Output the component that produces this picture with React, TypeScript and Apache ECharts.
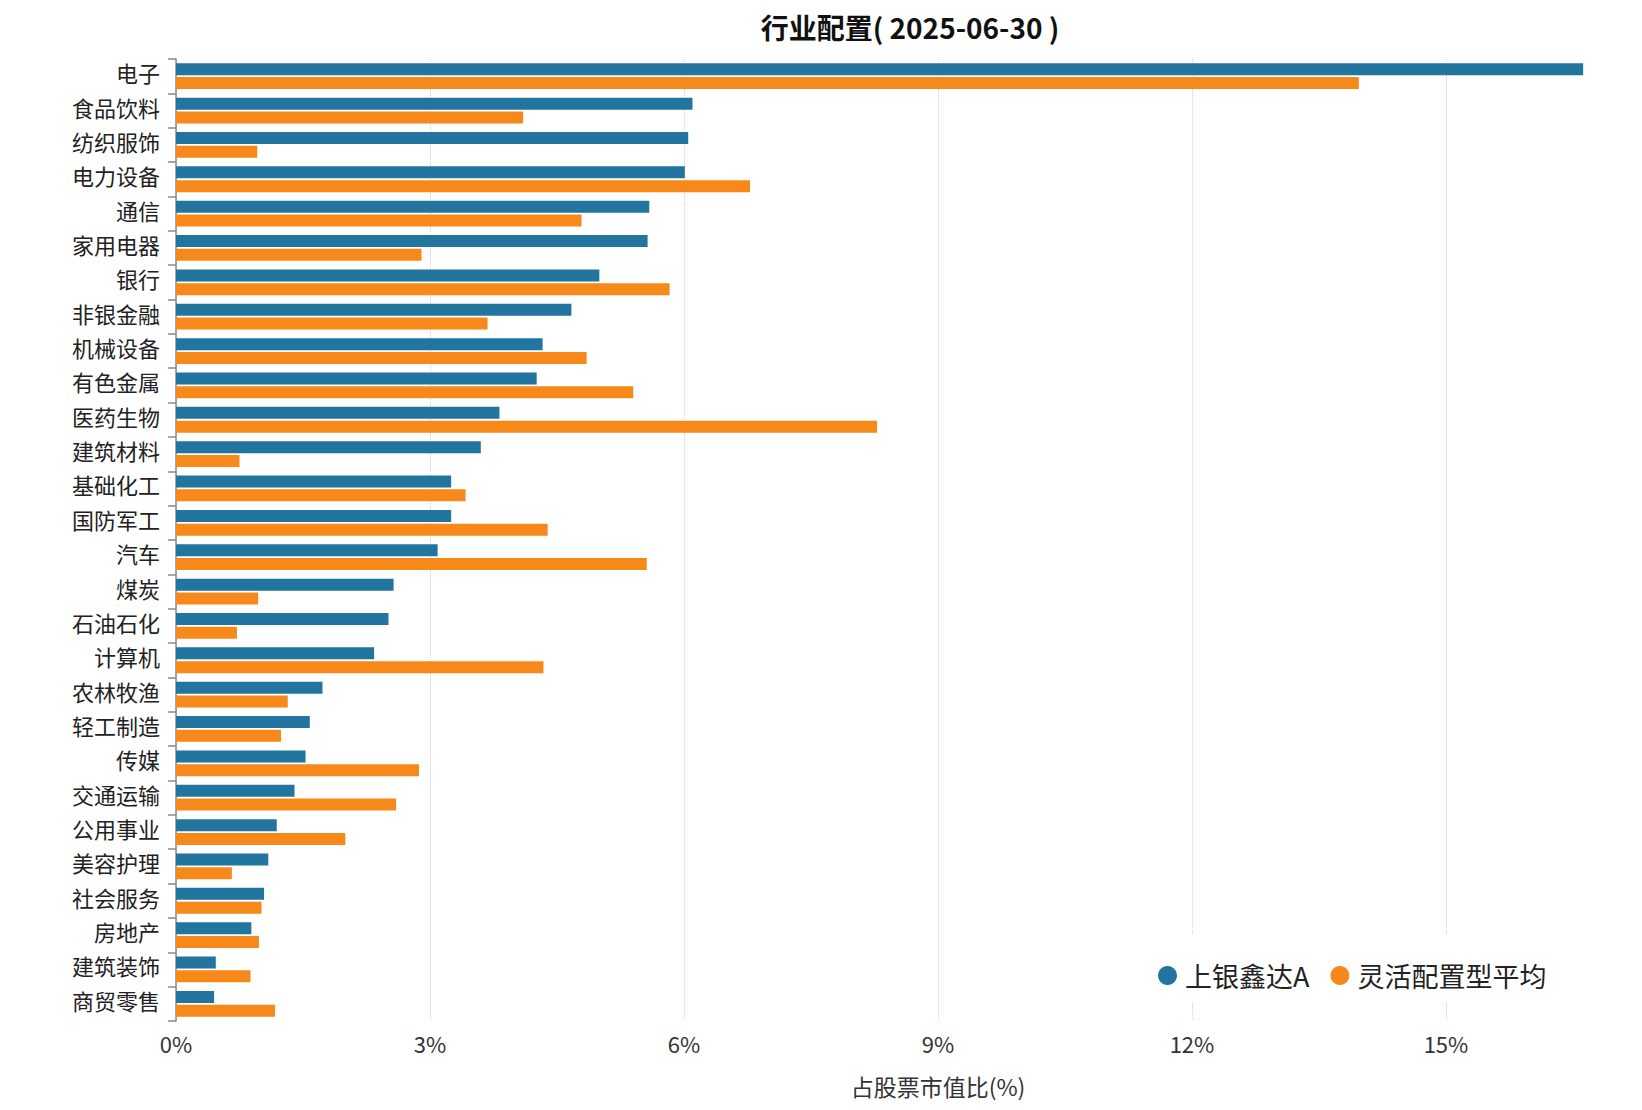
import React, { useEffect, useRef } from "react";
import * as echarts from "echarts";

const titleText = "行业配置( 2025-06-30 )";
const axisName = "占股票市值比(%)";
const seriesNames = ["上银鑫达A", "灵活配置型平均"];

const categories = [
  "电子", "食品饮料", "纺织服饰", "电力设备", "通信", "家用电器", "银行",
  "非银金融", "机械设备", "有色金属", "医药生物", "建筑材料", "基础化工",
  "国防军工", "汽车", "煤炭", "石油石化", "计算机", "农林牧渔", "轻工制造",
  "传媒", "交通运输", "公用事业", "美容护理", "社会服务", "房地产", "建筑装饰",
  "商贸零售",
];

const fundValues = [
  16.62, 6.1, 6.05, 6.01, 5.59, 5.57, 5.0, 4.67, 4.33, 4.26, 3.82, 3.6, 3.25,
  3.25, 3.09, 2.57, 2.51, 2.34, 1.73, 1.58, 1.53, 1.4, 1.19, 1.09, 1.04, 0.89,
  0.47, 0.45,
];

const avgValues = [
  13.97, 4.1, 0.96, 6.78, 4.79, 2.9, 5.83, 3.68, 4.85, 5.4, 8.28, 0.75, 3.42,
  4.39, 5.56, 0.97, 0.72, 4.34, 1.32, 1.24, 2.87, 2.6, 2.0, 0.66, 1.01, 0.98,
  0.88, 1.17,
];

const xMin = 0;
const xMax = 18;
const xInterval = 3;

const FONT = "'Noto Sans CJK SC', 'Noto Sans', sans-serif";
const BLUE = "#21759f";
const ORANGE = "#f7891a";

export default function App() {
  const ref = useRef<HTMLDivElement>(null);

  useEffect(() => {
    if (!ref.current) return;
    const chart = echarts.init(ref.current, undefined, { renderer: "svg" });
    chart.setOption({
      animation: false,
      textStyle: { fontFamily: FONT },
      title: {
        text: titleText,
        left: 910,
        textAlign: "center",
        top: 13,
        padding: 0,
        textStyle: {
          fontFamily: FONT,
          fontSize: 28,
          fontWeight: "bold",
          color: "#111",
        },
      },
      legend: {
        data: seriesNames,
        left: 1138,
        top: 934,
        padding: [28, 20, 13, 20],
        backgroundColor: "#ffffff",
        icon: "circle",
        itemWidth: 25,
        itemHeight: 19,
        itemGap: 21,
        textStyle: { fontFamily: FONT, fontSize: 27, color: "#222" },
        z: 10,
      },
      grid: {
        left: 176,
        right: 8,
        top: 59,
        bottom: 89,
        containLabel: false,
        outerBoundsMode: "none",
      },
      xAxis: {
        type: "value",
        min: xMin,
        max: xMax,
        interval: xInterval,
        name: axisName,
        nameLocation: "middle",
        nameGap: 53,
        nameTextStyle: { fontFamily: FONT, fontSize: 23, color: "#333" },
        axisLine: { show: false },
        axisTick: { show: false },
        axisLabel: {
          formatter: "{value}%",
          fontFamily: FONT,
          fontSize: 22,
          color: "#333",
          margin: 11,
          showMaxLabel: false,
        },
        splitLine: {
          show: true,
          lineStyle: { color: "#c9d3e4", type: "dotted", width: 1 },
        },
      },
      yAxis: {
        type: "category",
        data: categories,
        inverse: true,
        axisLine: { show: true, lineStyle: { color: "#8a8a8a", width: 1.5 } },
        axisTick: { show: true, length: 8, lineStyle: { color: "#8a8a8a", width: 1.5 } },
        axisLabel: {
          fontFamily: FONT,
          fontSize: 22,
          color: "#222",
          margin: 16,
          verticalAlign: "bottom",
          lineHeight: 8,
        },
        splitLine: { show: false },
      },
      series: [
        {
          name: seriesNames[0],
          type: "bar",
          data: fundValues,
          barWidth: 12,
          barGap: "15%",
          itemStyle: { color: BLUE },
        },
        {
          name: seriesNames[1],
          type: "bar",
          data: avgValues,
          barWidth: 12,
          barGap: "15%",
          itemStyle: { color: ORANGE },
        },
      ],
    });
    return () => chart.dispose();
  }, []);

  return (
    <div
      style={{
        position: "fixed",
        left: 0,
        top: 0,
        width: 1642,
        height: 1110,
        overflow: "hidden",
        background: "#fff",
      }}
    >
      <div ref={ref} style={{ width: 1708, height: 1110 }} />
    </div>
  );
}
